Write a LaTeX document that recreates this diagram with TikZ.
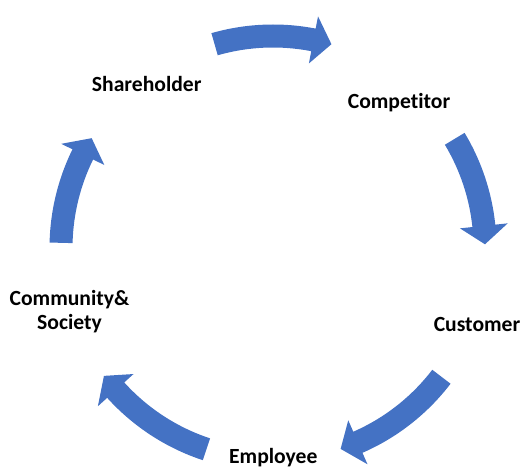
\documentclass[tikz,border=0pt]{standalone}
\usepackage{fontspec}
\setmainfont{Carlito}[Ligatures=NoCommon]
\usetikzlibrary{positioning}
\definecolor{cycleblue}{RGB}{68,114,196}
\tikzset{
    mylabel/.style = {font=\bfseries\fontsize{12.3}{13.3}\selectfont,text=black,inner sep=0pt,anchor=base,align=center},
    myarrow/.style = {fill=cycleblue,draw=none}, % curved block arrow
}
% #1 tail angle, #2 angle where the head starts, #3 tip angle
\newcommand{\cyclearrow}[3]{%
  \fill[myarrow] (#1:4.47) arc[start angle=#1,end angle=#2,radius=4.47cm]
    -- (#2:4.72) -- (#3:4.24) -- (#2:3.76) -- (#2:4.01)
    arc[start angle=#2,end angle=#1,radius=4.01cm] -- cycle;}

\begin{document}
\begin{tikzpicture}
\path[use as bounding box] (0,0) rectangle (10.4,9.32);

%
\node[mylabel] at (2.934,7.486) (share) {Shareholder};
\node[mylabel] at (7.98,7.154) (comp) {Competitor};
\node[mylabel] at (9.54,2.686) (cust) {Customer};
\node[mylabel] at (5.466,0.054) (empl) {Employee};
\node[mylabel] at (1.39,2.734) (comm) {Community\&\\Society};
%
\begin{scope}[shift={(5.46,4.36)}]
\cyclearrow{106}{79}{74}
\cyclearrow{31}{6}{1}
\cyclearrow{-37.4}{-66.4}{-71.4}
\cyclearrow{-108.3}{-137.9}{-142.9}
\cyclearrow{178.6}{153.8}{148.8}
\end{scope}

\end{tikzpicture}
\end{document}
